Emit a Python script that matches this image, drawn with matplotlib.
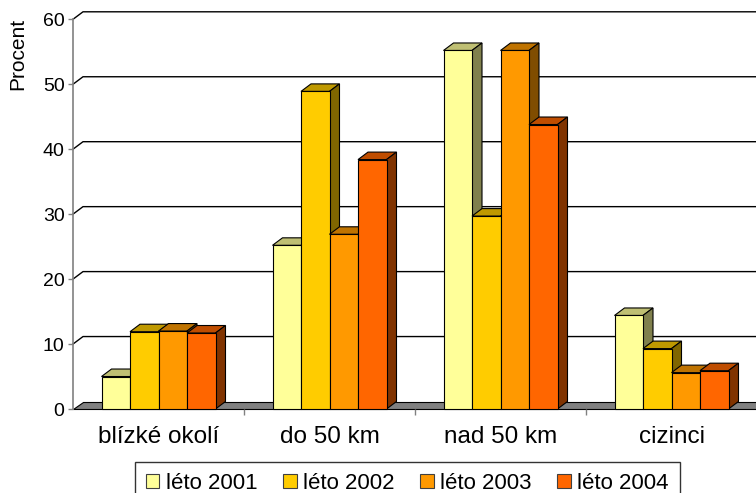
import numpy as np
import matplotlib
matplotlib.use('Agg')
from matplotlib import pyplot as plt
from matplotlib.patches import Patch
from matplotlib.colors import to_rgb

plt.rcParams['font.family'] = ['Liberation Sans', 'DejaVu Sans']

# data
categories = ['blízké okolí', 'do 50 km', 'nad 50 km', 'cizinci']
series = ['léto 2001', 'léto 2002', 'léto 2003', 'léto 2004']
leto2001 = [5.0, 25.2, 55.2, 14.4]
leto2002 = [11.9, 48.9, 29.7, 9.3]
leto2003 = [12.0, 26.9, 55.2, 5.6]
leto2004 = [11.7, 38.4, 43.8, 5.9]
values = [leto2001, leto2002, leto2003, leto2004]
colors = ['#FFFF99', '#FFCC00', '#FF9900', '#FF6600']
yticks = [0, 10, 20, 30, 40, 50, 60]

W, H = 756, 493
fig = plt.figure(figsize=(W/100, H/100), dpi=100)

# axes geometry in pixels (left axis at x=73, zero at y=409, 60 at y=19.3)
px_cat = 171.0
ax_left, ax_zero, ax_top = 73, 409, 19.3
ax = fig.add_axes([ax_left/W, (H-ax_zero)/H, (W-ax_left)/W, (ax_zero-ax_top)/H])
xmin = -0.5
xmax = xmin + (W-ax_left)/px_cat
ax.set_xlim(xmin, xmax)
ax.set_ylim(0, 60)
px_val = (ax_zero-ax_top)/60.0

# 3d depth, px -> data
dx = 10/px_cat
dy = 7.5/px_val

def shade(c, f):
    r, g, b = to_rgb(c)
    return (r*f, g*f, b*f)

# back wall gridlines
for v in yticks[1:]:
    ax.plot([xmin, xmin+dx, xmax+1], [v, v+dy, v+dy], color='black', lw=1.0,
            clip_on=False, zorder=1)

# floor
ax.fill([xmin, xmax+1, xmax+1, xmin+dx], [0, 0, dy, dy], facecolor='#808080',
        edgecolor='black', lw=0.8, clip_on=False, zorder=1.5)

# bars
bw = 1/6.0
z = 2
for ci in range(len(categories)):
    for si in range(len(series)):
        v = values[si][ci]
        x0 = ci + (si-2)*bw
        x1 = x0 + bw
        c = colors[si]
        ax.fill([x0, x1, x1+dx, x0+dx], [v, v, v+dy, v+dy], facecolor=shade(c, 0.75),
                edgecolor='black', lw=0.8, clip_on=False, zorder=z)
        ax.fill([x1, x1+dx, x1+dx, x1], [0, dy, v+dy, v], facecolor=shade(c, 0.5),
                edgecolor='black', lw=0.8, clip_on=False, zorder=z+0.01)
        ax.bar(x0, v, bw, align='edge', color=c, edgecolor='black', lw=0.8,
               zorder=z+0.02, clip_on=False)
        z += 0.1

for s in ['top', 'right', 'bottom']:
    ax.spines[s].set_visible(False)
ax.spines['left'].set_color('#808080')
ax.spines['left'].set_linewidth(1.2)
ax.spines['left'].set_zorder(1.6)

ax.set_yticks(yticks)
ax.tick_params(axis='y', direction='out', length=3.6, color='#808080', width=1,
               labelsize=14, pad=2.5)
ax.set_xticks(range(len(categories)))
ax.set_xticklabels(categories, fontsize=17.5)
ax.tick_params(axis='x', which='major', length=0, pad=12)
ax.set_xticks([0.5, 1.5, 2.5], minor=True)
ax.tick_params(axis='x', which='minor', direction='out', length=4, color='#808080', width=1)
ax.patch.set_visible(False)

fig.text(18/W, 1-54/H, 'Procent', rotation=90, ha='center', va='center', fontsize=15)

handles = [Patch(facecolor=c, edgecolor='#404040', lw=0.8) for c in colors]
fig.legend(handles, series, loc='upper left', bbox_to_anchor=(135/W, 1-462/H), ncol=4,
           frameon=True, fancybox=False, edgecolor='black', fontsize=16,
           handlelength=0.6, handleheight=0.6, handletextpad=0.3, columnspacing=1.15,
           borderpad=0.5, borderaxespad=0)

fig.savefig('out.png', dpi=100)
